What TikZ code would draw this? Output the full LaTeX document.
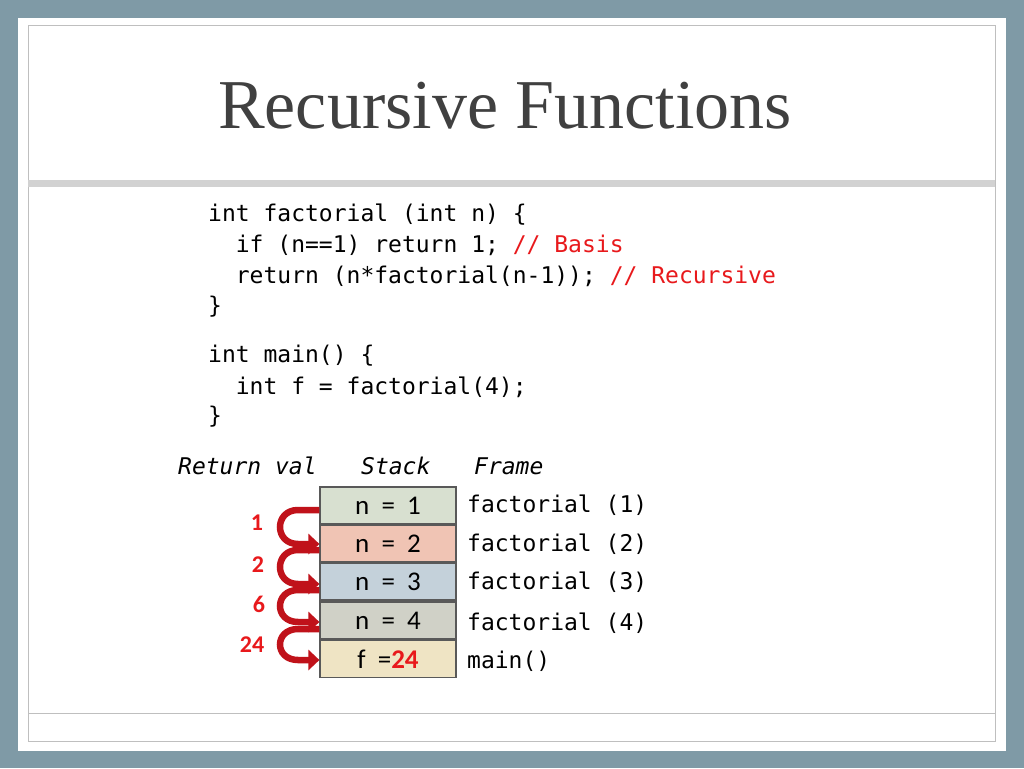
\documentclass[tikz,border=0pt]{standalone}
\usepackage{fontspec}
\setmainfont{Liberation Serif}
\newfontfamily\codefont{DejaVu Sans Mono}
\newfontfamily\boxfont{Carlito}
\usetikzlibrary{arrows.meta}
\definecolor{frameblue}{HTML}{7F9AA6}
\definecolor{titlegray}{HTML}{404040}
\definecolor{codered}{HTML}{E8191C}
\definecolor{arrowred}{HTML}{C0121A}
\definecolor{cA}{HTML}{D8E0D0}
\definecolor{cB}{HTML}{F0C4B4}
\definecolor{cC}{HTML}{C4D1DA}
\definecolor{cD}{HTML}{D0D1C7}
\definecolor{cE}{HTML}{EFE4C4}
\tikzset{
  code/.style={anchor=west,inner sep=0,font=\codefont\fontsize{23}{27}\selectfont,text=black},
  stackbox/.style={draw=gray!70!black,line width=1.2,minimum width=136,minimum height=37,inner sep=0,font=\boxfont\fontsize{27}{30}\selectfont},
  retlabel/.style={text=codered,font=\boxfont\bfseries\fontsize{24}{28}\selectfont},
  ret/.style={arrowred,line width=6.5,-{Triangle[length=11,width=20]}},
}
\begin{document}
\begin{tikzpicture}[x=1pt,y=-1pt]
\fill[frameblue] (0,0) rectangle (1024,768);
\fill[white] (18,18) rectangle (1006,751);
\draw[gray!50,line width=1] (28,26) rectangle (995,741);
\fill[gray!35] (28,180) rectangle (995,187);
\draw[gray!50,line width=1] (28,713) -- (995,713);
\node[anchor=west,inner sep=0,text=titlegray,font=\fontsize{70}{76}\selectfont] (title) at (218,106) {Recursive Functions};
\node[code] (l1) at (208,215) {int factorial (int n) \{};
\node[code] (l2) at (208,245) {\ \ if (n==1) return 1; \textcolor{codered}{// Basis}};
\node[code] (l3) at (208,276) {\ \ return (n*factorial(n-1)); \textcolor{codered}{// Recursive}};
\node[code] (l4) at (208,307) {\}};
\node[code] (l5) at (208,356) {int main() \{};
\node[code] (l6) at (208,387) {\ \ int f = factorial(4);};
\node[code] (l7) at (208,417) {\}};
\node[code,font=\codefont\itshape\fontsize{23}{27}\selectfont] (h1) at (178,466) {Return val};
\node[code,font=\codefont\itshape\fontsize{23}{27}\selectfont] (h2) at (361,466) {Stack};
\node[code,font=\codefont\itshape\fontsize{23}{27}\selectfont] (h3) at (474,466) {Frame};
\node[stackbox,fill=cA] (b1) at (388,505.5) {n\ \ =\ \ 1};
\node[stackbox,fill=cB] (b2) at (388,543.5) {n\ \ =\ \ 2};
\node[stackbox,fill=cC] (b3) at (388,581.5) {n\ \ =\ \ 3};
\node[stackbox,fill=cD] (b4) at (388,620.5) {n\ \ =\ \ 4};
\node[stackbox,fill=cE] (b5) at (388,659) {f\ \ =\textcolor{codered}{\bfseries 24}};
\node[code] (f1) at (467,505) {factorial (1)};
\node[code] (f2) at (467,544) {factorial (2)};
\node[code] (f3) at (467,582) {factorial (3)};
\node[code] (f4) at (467,623) {factorial (4)};
\node[code] (f5) at (467,661) {main()};
\node[retlabel] (r1) at (257,523) {1};
\node[retlabel] (r2) at (258,565) {2};
\node[retlabel] (r3) at (259,604) {6};
\node[retlabel] (r4) at (252,645) {24};
\draw[ret] (b1.west|-0,510) -- (298,510) .. controls (274,510) and (274,544) .. (298,544) -- (b2.west|-0,544);
\draw[ret] (b2.west|-0,550) -- (298,550) .. controls (274,550) and (274,584) .. (298,584) -- (b3.west|-0,584);
\draw[ret] (b3.west|-0,590) -- (298,590) .. controls (274,590) and (274,622) .. (298,622) -- (b4.west|-0,622);
\draw[ret] (b4.west|-0,629) -- (298,629) .. controls (274,629) and (274,660) .. (298,660) -- (b5.west|-0,660);
\end{tikzpicture}
\end{document}
